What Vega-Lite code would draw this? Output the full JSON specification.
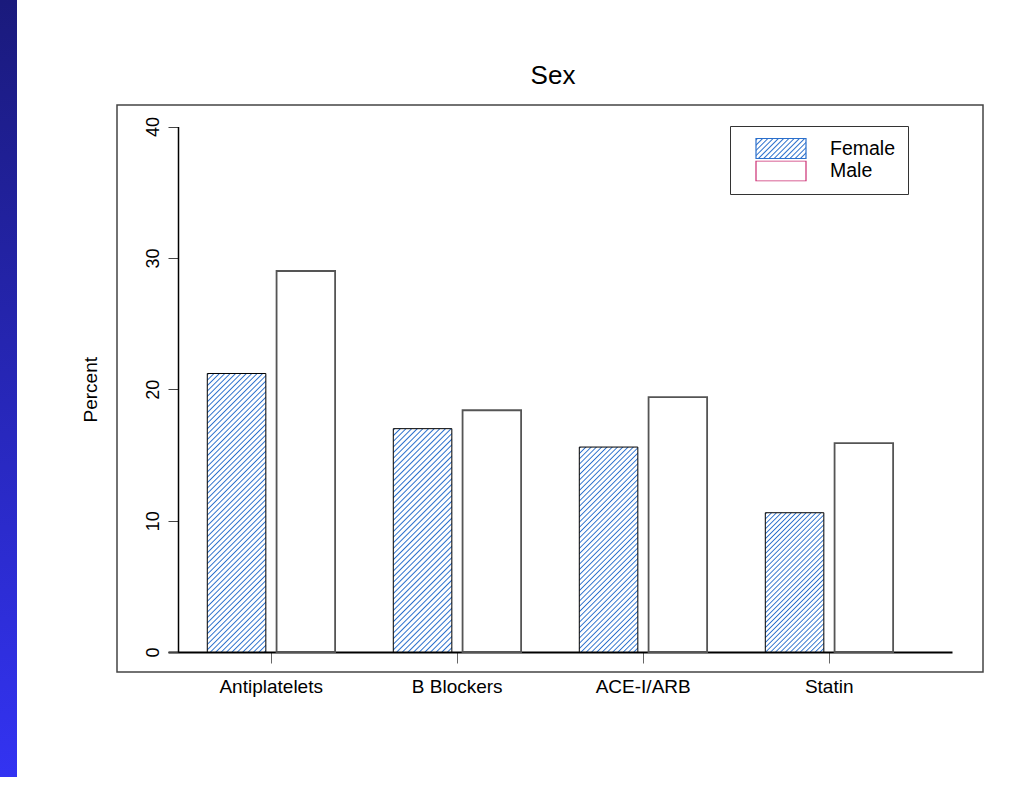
{
 "$schema": "https://vega.github.io/schema/vega-lite/v6.json",
 "padding": 0,
 "background": "white",
 "config": {"view": {"stroke": "#444444", "strokeWidth": 1.5, "fill": "white"}, "font": "Liberation Sans"},
 "spacing": 100,
 "bounds": "flush",
 "center": true,
 "hconcat": [
 {
  "width": 17,
  "height": 777,
  "view": {"stroke": null, "fill": null},
  "data": {"values": [{}]},
  "mark": {"type": "rect", "fill": {"gradient": "linear", "x1": 0, "y1": 0, "x2": 0, "y2": 1, "stops": [{"offset": 0, "color": "#1a1a7c"}, {"offset": 1, "color": "#3333f2"}]}},
  "encoding": {}
 },
 {
 "width": 866,
 "height": 567,
 "title": {"text": "Sex", "font": "Liberation Sans", "fontSize": 26, "fontWeight": "normal", "color": "#000000", "anchor": "middle", "offset": 16, "dx": 3},
 "data": {"values": [
  {"drug": "Antiplatelets", "sex": "Female", "pct": 21.2},
  {"drug": "Antiplatelets", "sex": "Male", "pct": 29.0},
  {"drug": "B Blockers", "sex": "Female", "pct": 17.0},
  {"drug": "B Blockers", "sex": "Male", "pct": 18.4},
  {"drug": "ACE-I/ARB", "sex": "Female", "pct": 15.6},
  {"drug": "ACE-I/ARB", "sex": "Male", "pct": 19.4},
  {"drug": "Statin", "sex": "Female", "pct": 10.6},
  {"drug": "Statin", "sex": "Male", "pct": 15.9}
 ]},
 "layer": [
 {
 "mark": {"type": "bar"},
 "encoding": {
  "x": {"field": "drug", "type": "nominal", "sort": null,
   "scale": {"range": [51, 835], "paddingInner": 0, "paddingOuter": 0.1075, "align": 0.255},
   "axis": {"orient": "bottom", "offset": -20, "title": null, "labelAngle": 0, "tickSize": 11, "tickColor": "#666666", "tickWidth": 1, "domainColor": "#000000", "domainWidth": 2, "labelPadding": 14, "labelFont": "Liberation Sans", "labelFontSize": 19, "labelColor": "#000000", "grid": false}},
  "xOffset": {"field": "sex", "type": "nominal", "scale": {"paddingInner": 0.155, "paddingOuter": 0.42}},
  "y": {"field": "pct", "type": "quantitative",
   "scale": {"domain": [0, 40], "range": [547, 21.5], "nice": false, "zero": false},
   "axis": {"orient": "left", "offset": -61, "values": [0, 10, 20, 30, 40], "title": "Percent", "grid": false, "labelAngle": 270, "labelAlign": "center", "labelBaseline": "alphabetic", "labelPadding": 10, "tickSize": 10, "tickColor": "#444444", "tickWidth": 1, "domainColor": "#000000", "domainWidth": 1.5, "labelFont": "Liberation Sans", "labelFontSize": 18, "labelColor": "#000000", "titleFont": "Liberation Sans", "titleFontSize": 19, "titleFontWeight": "normal", "titleColor": "#000000", "titlePadding": 44}},
  "fill": {"condition": [
   {"test": "datum.sex === 'Female' && datum.drug === 'Antiplatelets'", "value": {"gradient": "linear", "x1": 0, "y1": 0, "x2": 0.2433, "y2": 1.1589, "stops": [
{"offset":0,"color":"#fff"},{"offset":0.004,"color":"#2a6fcc"},{"offset":0.008,"color":"#fff"},
{"offset":0.016,"color":"#fff"},{"offset":0.02,"color":"#2a6fcc"},{"offset":0.024,"color":"#fff"},
{"offset":0.032,"color":"#fff"},{"offset":0.036,"color":"#2a6fcc"},{"offset":0.04,"color":"#fff"},
{"offset":0.048,"color":"#fff"},{"offset":0.052,"color":"#2a6fcc"},{"offset":0.056,"color":"#fff"},
{"offset":0.064,"color":"#fff"},{"offset":0.068,"color":"#2a6fcc"},{"offset":0.072,"color":"#fff"},
{"offset":0.08,"color":"#fff"},{"offset":0.084,"color":"#2a6fcc"},{"offset":0.088,"color":"#fff"},
{"offset":0.096,"color":"#fff"},{"offset":0.1,"color":"#2a6fcc"},{"offset":0.104,"color":"#fff"},
{"offset":0.112,"color":"#fff"},{"offset":0.116,"color":"#2a6fcc"},{"offset":0.12,"color":"#fff"},
{"offset":0.128,"color":"#fff"},{"offset":0.132,"color":"#2a6fcc"},{"offset":0.136,"color":"#fff"},
{"offset":0.144,"color":"#fff"},{"offset":0.148,"color":"#2a6fcc"},{"offset":0.152,"color":"#fff"},
{"offset":0.16,"color":"#fff"},{"offset":0.164,"color":"#2a6fcc"},{"offset":0.168,"color":"#fff"},
{"offset":0.176,"color":"#fff"},{"offset":0.18,"color":"#2a6fcc"},{"offset":0.184,"color":"#fff"},
{"offset":0.192,"color":"#fff"},{"offset":0.196,"color":"#2a6fcc"},{"offset":0.2,"color":"#fff"},
{"offset":0.208,"color":"#fff"},{"offset":0.212,"color":"#2a6fcc"},{"offset":0.216,"color":"#fff"},
{"offset":0.224,"color":"#fff"},{"offset":0.228,"color":"#2a6fcc"},{"offset":0.232,"color":"#fff"},
{"offset":0.24,"color":"#fff"},{"offset":0.244,"color":"#2a6fcc"},{"offset":0.248,"color":"#fff"},
{"offset":0.256,"color":"#fff"},{"offset":0.26,"color":"#2a6fcc"},{"offset":0.264,"color":"#fff"},
{"offset":0.272,"color":"#fff"},{"offset":0.276,"color":"#2a6fcc"},{"offset":0.28,"color":"#fff"},
{"offset":0.288,"color":"#fff"},{"offset":0.292,"color":"#2a6fcc"},{"offset":0.296,"color":"#fff"},
{"offset":0.304,"color":"#fff"},{"offset":0.308,"color":"#2a6fcc"},{"offset":0.312,"color":"#fff"},
{"offset":0.32,"color":"#fff"},{"offset":0.324,"color":"#2a6fcc"},{"offset":0.328,"color":"#fff"},
{"offset":0.336,"color":"#fff"},{"offset":0.34,"color":"#2a6fcc"},{"offset":0.344,"color":"#fff"},
{"offset":0.352,"color":"#fff"},{"offset":0.356,"color":"#2a6fcc"},{"offset":0.36,"color":"#fff"},
{"offset":0.368,"color":"#fff"},{"offset":0.372,"color":"#2a6fcc"},{"offset":0.376,"color":"#fff"},
{"offset":0.384,"color":"#fff"},{"offset":0.388,"color":"#2a6fcc"},{"offset":0.392,"color":"#fff"},
{"offset":0.4,"color":"#fff"},{"offset":0.404,"color":"#2a6fcc"},{"offset":0.408,"color":"#fff"},
{"offset":0.416,"color":"#fff"},{"offset":0.42,"color":"#2a6fcc"},{"offset":0.424,"color":"#fff"},
{"offset":0.432,"color":"#fff"},{"offset":0.436,"color":"#2a6fcc"},{"offset":0.44,"color":"#fff"},
{"offset":0.448,"color":"#fff"},{"offset":0.452,"color":"#2a6fcc"},{"offset":0.456,"color":"#fff"},
{"offset":0.464,"color":"#fff"},{"offset":0.468,"color":"#2a6fcc"},{"offset":0.472,"color":"#fff"},
{"offset":0.48,"color":"#fff"},{"offset":0.484,"color":"#2a6fcc"},{"offset":0.488,"color":"#fff"},
{"offset":0.496,"color":"#fff"},{"offset":0.5,"color":"#2a6fcc"},{"offset":0.504,"color":"#fff"},
{"offset":0.512,"color":"#fff"},{"offset":0.516,"color":"#2a6fcc"},{"offset":0.52,"color":"#fff"},
{"offset":0.528,"color":"#fff"},{"offset":0.532,"color":"#2a6fcc"},{"offset":0.536,"color":"#fff"},
{"offset":0.544,"color":"#fff"},{"offset":0.548,"color":"#2a6fcc"},{"offset":0.552,"color":"#fff"},
{"offset":0.56,"color":"#fff"},{"offset":0.564,"color":"#2a6fcc"},{"offset":0.568,"color":"#fff"},
{"offset":0.576,"color":"#fff"},{"offset":0.58,"color":"#2a6fcc"},{"offset":0.584,"color":"#fff"},
{"offset":0.592,"color":"#fff"},{"offset":0.596,"color":"#2a6fcc"},{"offset":0.6,"color":"#fff"},
{"offset":0.608,"color":"#fff"},{"offset":0.612,"color":"#2a6fcc"},{"offset":0.616,"color":"#fff"},
{"offset":0.624,"color":"#fff"},{"offset":0.628,"color":"#2a6fcc"},{"offset":0.632,"color":"#fff"},
{"offset":0.64,"color":"#fff"},{"offset":0.644,"color":"#2a6fcc"},{"offset":0.648,"color":"#fff"},
{"offset":0.656,"color":"#fff"},{"offset":0.66,"color":"#2a6fcc"},{"offset":0.664,"color":"#fff"},
{"offset":0.672,"color":"#fff"},{"offset":0.676,"color":"#2a6fcc"},{"offset":0.68,"color":"#fff"},
{"offset":0.688,"color":"#fff"},{"offset":0.692,"color":"#2a6fcc"},{"offset":0.696,"color":"#fff"},
{"offset":0.704,"color":"#fff"},{"offset":0.708,"color":"#2a6fcc"},{"offset":0.712,"color":"#fff"},
{"offset":0.72,"color":"#fff"},{"offset":0.724,"color":"#2a6fcc"},{"offset":0.728,"color":"#fff"},
{"offset":0.736,"color":"#fff"},{"offset":0.74,"color":"#2a6fcc"},{"offset":0.744,"color":"#fff"},
{"offset":0.752,"color":"#fff"},{"offset":0.756,"color":"#2a6fcc"},{"offset":0.76,"color":"#fff"},
{"offset":0.768,"color":"#fff"},{"offset":0.772,"color":"#2a6fcc"},{"offset":0.776,"color":"#fff"},
{"offset":0.784,"color":"#fff"},{"offset":0.788,"color":"#2a6fcc"},{"offset":0.792,"color":"#fff"},
{"offset":0.8,"color":"#fff"},{"offset":0.804,"color":"#2a6fcc"},{"offset":0.808,"color":"#fff"},
{"offset":0.816,"color":"#fff"},{"offset":0.82,"color":"#2a6fcc"},{"offset":0.824,"color":"#fff"},
{"offset":0.832,"color":"#fff"},{"offset":0.836,"color":"#2a6fcc"},{"offset":0.84,"color":"#fff"},
{"offset":0.848,"color":"#fff"},{"offset":0.852,"color":"#2a6fcc"},{"offset":0.856,"color":"#fff"},
{"offset":0.864,"color":"#fff"},{"offset":0.868,"color":"#2a6fcc"},{"offset":0.872,"color":"#fff"},
{"offset":0.88,"color":"#fff"},{"offset":0.884,"color":"#2a6fcc"},{"offset":0.888,"color":"#fff"},
{"offset":0.896,"color":"#fff"},{"offset":0.9,"color":"#2a6fcc"},{"offset":0.904,"color":"#fff"},
{"offset":0.912,"color":"#fff"},{"offset":0.916,"color":"#2a6fcc"},{"offset":0.92,"color":"#fff"},
{"offset":0.928,"color":"#fff"},{"offset":0.932,"color":"#2a6fcc"},{"offset":0.936,"color":"#fff"},
{"offset":0.944,"color":"#fff"},{"offset":0.948,"color":"#2a6fcc"},{"offset":0.952,"color":"#fff"},
{"offset":0.96,"color":"#fff"},{"offset":0.964,"color":"#2a6fcc"},{"offset":0.968,"color":"#fff"},
{"offset":0.976,"color":"#fff"},{"offset":0.98,"color":"#2a6fcc"},{"offset":0.984,"color":"#fff"},
{"offset":0.992,"color":"#fff"},{"offset":0.996,"color":"#2a6fcc"},{"offset":1,"color":"#fff"}
   ]}},
   {"test": "datum.sex === 'Female' && datum.drug === 'B Blockers'", "value": {"gradient": "linear", "x1": 0, "y1": 0, "x2": 0.3092, "y2": 1.1809, "stops": [
{"offset":0,"color":"#fff"},{"offset":0.005,"color":"#2a6fcc"},{"offset":0.01,"color":"#fff"},
{"offset":0.02,"color":"#fff"},{"offset":0.025,"color":"#2a6fcc"},{"offset":0.03,"color":"#fff"},
{"offset":0.04,"color":"#fff"},{"offset":0.045,"color":"#2a6fcc"},{"offset":0.05,"color":"#fff"},
{"offset":0.06,"color":"#fff"},{"offset":0.065,"color":"#2a6fcc"},{"offset":0.07,"color":"#fff"},
{"offset":0.08,"color":"#fff"},{"offset":0.085,"color":"#2a6fcc"},{"offset":0.09,"color":"#fff"},
{"offset":0.1,"color":"#fff"},{"offset":0.105,"color":"#2a6fcc"},{"offset":0.11,"color":"#fff"},
{"offset":0.12,"color":"#fff"},{"offset":0.125,"color":"#2a6fcc"},{"offset":0.13,"color":"#fff"},
{"offset":0.14,"color":"#fff"},{"offset":0.145,"color":"#2a6fcc"},{"offset":0.15,"color":"#fff"},
{"offset":0.16,"color":"#fff"},{"offset":0.165,"color":"#2a6fcc"},{"offset":0.17,"color":"#fff"},
{"offset":0.18,"color":"#fff"},{"offset":0.185,"color":"#2a6fcc"},{"offset":0.19,"color":"#fff"},
{"offset":0.2,"color":"#fff"},{"offset":0.205,"color":"#2a6fcc"},{"offset":0.21,"color":"#fff"},
{"offset":0.22,"color":"#fff"},{"offset":0.225,"color":"#2a6fcc"},{"offset":0.23,"color":"#fff"},
{"offset":0.24,"color":"#fff"},{"offset":0.245,"color":"#2a6fcc"},{"offset":0.25,"color":"#fff"},
{"offset":0.26,"color":"#fff"},{"offset":0.265,"color":"#2a6fcc"},{"offset":0.27,"color":"#fff"},
{"offset":0.28,"color":"#fff"},{"offset":0.285,"color":"#2a6fcc"},{"offset":0.29,"color":"#fff"},
{"offset":0.3,"color":"#fff"},{"offset":0.305,"color":"#2a6fcc"},{"offset":0.31,"color":"#fff"},
{"offset":0.32,"color":"#fff"},{"offset":0.325,"color":"#2a6fcc"},{"offset":0.33,"color":"#fff"},
{"offset":0.34,"color":"#fff"},{"offset":0.345,"color":"#2a6fcc"},{"offset":0.35,"color":"#fff"},
{"offset":0.36,"color":"#fff"},{"offset":0.365,"color":"#2a6fcc"},{"offset":0.37,"color":"#fff"},
{"offset":0.38,"color":"#fff"},{"offset":0.385,"color":"#2a6fcc"},{"offset":0.39,"color":"#fff"},
{"offset":0.4,"color":"#fff"},{"offset":0.405,"color":"#2a6fcc"},{"offset":0.41,"color":"#fff"},
{"offset":0.42,"color":"#fff"},{"offset":0.425,"color":"#2a6fcc"},{"offset":0.43,"color":"#fff"},
{"offset":0.44,"color":"#fff"},{"offset":0.445,"color":"#2a6fcc"},{"offset":0.45,"color":"#fff"},
{"offset":0.46,"color":"#fff"},{"offset":0.465,"color":"#2a6fcc"},{"offset":0.47,"color":"#fff"},
{"offset":0.48,"color":"#fff"},{"offset":0.485,"color":"#2a6fcc"},{"offset":0.49,"color":"#fff"},
{"offset":0.5,"color":"#fff"},{"offset":0.505,"color":"#2a6fcc"},{"offset":0.51,"color":"#fff"},
{"offset":0.52,"color":"#fff"},{"offset":0.525,"color":"#2a6fcc"},{"offset":0.53,"color":"#fff"},
{"offset":0.54,"color":"#fff"},{"offset":0.545,"color":"#2a6fcc"},{"offset":0.55,"color":"#fff"},
{"offset":0.56,"color":"#fff"},{"offset":0.565,"color":"#2a6fcc"},{"offset":0.57,"color":"#fff"},
{"offset":0.58,"color":"#fff"},{"offset":0.585,"color":"#2a6fcc"},{"offset":0.59,"color":"#fff"},
{"offset":0.6,"color":"#fff"},{"offset":0.605,"color":"#2a6fcc"},{"offset":0.61,"color":"#fff"},
{"offset":0.62,"color":"#fff"},{"offset":0.625,"color":"#2a6fcc"},{"offset":0.63,"color":"#fff"},
{"offset":0.64,"color":"#fff"},{"offset":0.645,"color":"#2a6fcc"},{"offset":0.65,"color":"#fff"},
{"offset":0.66,"color":"#fff"},{"offset":0.665,"color":"#2a6fcc"},{"offset":0.67,"color":"#fff"},
{"offset":0.68,"color":"#fff"},{"offset":0.685,"color":"#2a6fcc"},{"offset":0.69,"color":"#fff"},
{"offset":0.7,"color":"#fff"},{"offset":0.705,"color":"#2a6fcc"},{"offset":0.71,"color":"#fff"},
{"offset":0.72,"color":"#fff"},{"offset":0.725,"color":"#2a6fcc"},{"offset":0.73,"color":"#fff"},
{"offset":0.74,"color":"#fff"},{"offset":0.745,"color":"#2a6fcc"},{"offset":0.75,"color":"#fff"},
{"offset":0.76,"color":"#fff"},{"offset":0.765,"color":"#2a6fcc"},{"offset":0.77,"color":"#fff"},
{"offset":0.78,"color":"#fff"},{"offset":0.785,"color":"#2a6fcc"},{"offset":0.79,"color":"#fff"},
{"offset":0.8,"color":"#fff"},{"offset":0.805,"color":"#2a6fcc"},{"offset":0.81,"color":"#fff"},
{"offset":0.82,"color":"#fff"},{"offset":0.825,"color":"#2a6fcc"},{"offset":0.83,"color":"#fff"},
{"offset":0.84,"color":"#fff"},{"offset":0.845,"color":"#2a6fcc"},{"offset":0.85,"color":"#fff"},
{"offset":0.86,"color":"#fff"},{"offset":0.865,"color":"#2a6fcc"},{"offset":0.87,"color":"#fff"},
{"offset":0.88,"color":"#fff"},{"offset":0.885,"color":"#2a6fcc"},{"offset":0.89,"color":"#fff"},
{"offset":0.9,"color":"#fff"},{"offset":0.905,"color":"#2a6fcc"},{"offset":0.91,"color":"#fff"},
{"offset":0.92,"color":"#fff"},{"offset":0.925,"color":"#2a6fcc"},{"offset":0.93,"color":"#fff"},
{"offset":0.94,"color":"#fff"},{"offset":0.945,"color":"#2a6fcc"},{"offset":0.95,"color":"#fff"},
{"offset":0.96,"color":"#fff"},{"offset":0.965,"color":"#2a6fcc"},{"offset":0.97,"color":"#fff"},
{"offset":0.98,"color":"#fff"},{"offset":0.985,"color":"#2a6fcc"},{"offset":0.99,"color":"#fff"}
   ]}},
   {"test": "datum.sex === 'Female' && datum.drug === 'ACE-I/ARB'", "value": {"gradient": "linear", "x1": 0, "y1": 0, "x2": 0.3392, "y2": 1.1886, "stops": [
{"offset":0,"color":"#fff"},{"offset":0.005,"color":"#2a6fcc"},{"offset":0.01,"color":"#fff"},
{"offset":0.02,"color":"#fff"},{"offset":0.025,"color":"#2a6fcc"},{"offset":0.03,"color":"#fff"},
{"offset":0.04,"color":"#fff"},{"offset":0.045,"color":"#2a6fcc"},{"offset":0.05,"color":"#fff"},
{"offset":0.06,"color":"#fff"},{"offset":0.065,"color":"#2a6fcc"},{"offset":0.07,"color":"#fff"},
{"offset":0.08,"color":"#fff"},{"offset":0.085,"color":"#2a6fcc"},{"offset":0.09,"color":"#fff"},
{"offset":0.1,"color":"#fff"},{"offset":0.105,"color":"#2a6fcc"},{"offset":0.11,"color":"#fff"},
{"offset":0.12,"color":"#fff"},{"offset":0.125,"color":"#2a6fcc"},{"offset":0.13,"color":"#fff"},
{"offset":0.14,"color":"#fff"},{"offset":0.145,"color":"#2a6fcc"},{"offset":0.15,"color":"#fff"},
{"offset":0.16,"color":"#fff"},{"offset":0.165,"color":"#2a6fcc"},{"offset":0.17,"color":"#fff"},
{"offset":0.18,"color":"#fff"},{"offset":0.185,"color":"#2a6fcc"},{"offset":0.19,"color":"#fff"},
{"offset":0.2,"color":"#fff"},{"offset":0.205,"color":"#2a6fcc"},{"offset":0.21,"color":"#fff"},
{"offset":0.22,"color":"#fff"},{"offset":0.225,"color":"#2a6fcc"},{"offset":0.23,"color":"#fff"},
{"offset":0.24,"color":"#fff"},{"offset":0.245,"color":"#2a6fcc"},{"offset":0.25,"color":"#fff"},
{"offset":0.26,"color":"#fff"},{"offset":0.265,"color":"#2a6fcc"},{"offset":0.27,"color":"#fff"},
{"offset":0.28,"color":"#fff"},{"offset":0.285,"color":"#2a6fcc"},{"offset":0.29,"color":"#fff"},
{"offset":0.3,"color":"#fff"},{"offset":0.305,"color":"#2a6fcc"},{"offset":0.31,"color":"#fff"},
{"offset":0.32,"color":"#fff"},{"offset":0.325,"color":"#2a6fcc"},{"offset":0.33,"color":"#fff"},
{"offset":0.34,"color":"#fff"},{"offset":0.345,"color":"#2a6fcc"},{"offset":0.35,"color":"#fff"},
{"offset":0.36,"color":"#fff"},{"offset":0.365,"color":"#2a6fcc"},{"offset":0.37,"color":"#fff"},
{"offset":0.38,"color":"#fff"},{"offset":0.385,"color":"#2a6fcc"},{"offset":0.39,"color":"#fff"},
{"offset":0.4,"color":"#fff"},{"offset":0.405,"color":"#2a6fcc"},{"offset":0.41,"color":"#fff"},
{"offset":0.42,"color":"#fff"},{"offset":0.425,"color":"#2a6fcc"},{"offset":0.43,"color":"#fff"},
{"offset":0.44,"color":"#fff"},{"offset":0.445,"color":"#2a6fcc"},{"offset":0.45,"color":"#fff"},
{"offset":0.46,"color":"#fff"},{"offset":0.465,"color":"#2a6fcc"},{"offset":0.47,"color":"#fff"},
{"offset":0.48,"color":"#fff"},{"offset":0.485,"color":"#2a6fcc"},{"offset":0.49,"color":"#fff"},
{"offset":0.5,"color":"#fff"},{"offset":0.505,"color":"#2a6fcc"},{"offset":0.51,"color":"#fff"},
{"offset":0.52,"color":"#fff"},{"offset":0.525,"color":"#2a6fcc"},{"offset":0.53,"color":"#fff"},
{"offset":0.54,"color":"#fff"},{"offset":0.545,"color":"#2a6fcc"},{"offset":0.55,"color":"#fff"},
{"offset":0.56,"color":"#fff"},{"offset":0.565,"color":"#2a6fcc"},{"offset":0.57,"color":"#fff"},
{"offset":0.58,"color":"#fff"},{"offset":0.585,"color":"#2a6fcc"},{"offset":0.59,"color":"#fff"},
{"offset":0.6,"color":"#fff"},{"offset":0.605,"color":"#2a6fcc"},{"offset":0.61,"color":"#fff"},
{"offset":0.62,"color":"#fff"},{"offset":0.625,"color":"#2a6fcc"},{"offset":0.63,"color":"#fff"},
{"offset":0.64,"color":"#fff"},{"offset":0.645,"color":"#2a6fcc"},{"offset":0.65,"color":"#fff"},
{"offset":0.66,"color":"#fff"},{"offset":0.665,"color":"#2a6fcc"},{"offset":0.67,"color":"#fff"},
{"offset":0.68,"color":"#fff"},{"offset":0.685,"color":"#2a6fcc"},{"offset":0.69,"color":"#fff"},
{"offset":0.7,"color":"#fff"},{"offset":0.705,"color":"#2a6fcc"},{"offset":0.71,"color":"#fff"},
{"offset":0.72,"color":"#fff"},{"offset":0.725,"color":"#2a6fcc"},{"offset":0.73,"color":"#fff"},
{"offset":0.74,"color":"#fff"},{"offset":0.745,"color":"#2a6fcc"},{"offset":0.75,"color":"#fff"},
{"offset":0.76,"color":"#fff"},{"offset":0.765,"color":"#2a6fcc"},{"offset":0.77,"color":"#fff"},
{"offset":0.78,"color":"#fff"},{"offset":0.785,"color":"#2a6fcc"},{"offset":0.79,"color":"#fff"},
{"offset":0.8,"color":"#fff"},{"offset":0.805,"color":"#2a6fcc"},{"offset":0.81,"color":"#fff"},
{"offset":0.82,"color":"#fff"},{"offset":0.825,"color":"#2a6fcc"},{"offset":0.83,"color":"#fff"},
{"offset":0.84,"color":"#fff"},{"offset":0.845,"color":"#2a6fcc"},{"offset":0.85,"color":"#fff"},
{"offset":0.86,"color":"#fff"},{"offset":0.865,"color":"#2a6fcc"},{"offset":0.87,"color":"#fff"},
{"offset":0.88,"color":"#fff"},{"offset":0.885,"color":"#2a6fcc"},{"offset":0.89,"color":"#fff"},
{"offset":0.9,"color":"#fff"},{"offset":0.905,"color":"#2a6fcc"},{"offset":0.91,"color":"#fff"},
{"offset":0.92,"color":"#fff"},{"offset":0.925,"color":"#2a6fcc"},{"offset":0.93,"color":"#fff"},
{"offset":0.94,"color":"#fff"},{"offset":0.945,"color":"#2a6fcc"},{"offset":0.95,"color":"#fff"},
{"offset":0.96,"color":"#fff"},{"offset":0.965,"color":"#2a6fcc"},{"offset":0.97,"color":"#fff"},
{"offset":0.98,"color":"#fff"},{"offset":0.985,"color":"#2a6fcc"},{"offset":0.99,"color":"#fff"}
   ]}},
   {"test": "datum.sex === 'Female' && datum.drug === 'Statin'", "value": {"gradient": "linear", "x1": 0, "y1": 0, "x2": 0.5069, "y2": 1.2071, "stops": [
{"offset":0,"color":"#fff"},{"offset":0.0065,"color":"#2a6fcc"},{"offset":0.013,"color":"#fff"},
{"offset":0.025,"color":"#fff"},{"offset":0.0315,"color":"#2a6fcc"},{"offset":0.038,"color":"#fff"},
{"offset":0.05,"color":"#fff"},{"offset":0.0565,"color":"#2a6fcc"},{"offset":0.063,"color":"#fff"},
{"offset":0.075,"color":"#fff"},{"offset":0.0815,"color":"#2a6fcc"},{"offset":0.088,"color":"#fff"},
{"offset":0.1,"color":"#fff"},{"offset":0.1065,"color":"#2a6fcc"},{"offset":0.113,"color":"#fff"},
{"offset":0.125,"color":"#fff"},{"offset":0.1315,"color":"#2a6fcc"},{"offset":0.138,"color":"#fff"},
{"offset":0.15,"color":"#fff"},{"offset":0.1565,"color":"#2a6fcc"},{"offset":0.163,"color":"#fff"},
{"offset":0.175,"color":"#fff"},{"offset":0.1815,"color":"#2a6fcc"},{"offset":0.188,"color":"#fff"},
{"offset":0.2,"color":"#fff"},{"offset":0.2065,"color":"#2a6fcc"},{"offset":0.213,"color":"#fff"},
{"offset":0.225,"color":"#fff"},{"offset":0.2315,"color":"#2a6fcc"},{"offset":0.238,"color":"#fff"},
{"offset":0.25,"color":"#fff"},{"offset":0.2565,"color":"#2a6fcc"},{"offset":0.263,"color":"#fff"},
{"offset":0.275,"color":"#fff"},{"offset":0.2815,"color":"#2a6fcc"},{"offset":0.288,"color":"#fff"},
{"offset":0.3,"color":"#fff"},{"offset":0.3065,"color":"#2a6fcc"},{"offset":0.313,"color":"#fff"},
{"offset":0.325,"color":"#fff"},{"offset":0.3315,"color":"#2a6fcc"},{"offset":0.338,"color":"#fff"},
{"offset":0.35,"color":"#fff"},{"offset":0.3565,"color":"#2a6fcc"},{"offset":0.363,"color":"#fff"},
{"offset":0.375,"color":"#fff"},{"offset":0.3815,"color":"#2a6fcc"},{"offset":0.388,"color":"#fff"},
{"offset":0.4,"color":"#fff"},{"offset":0.4065,"color":"#2a6fcc"},{"offset":0.413,"color":"#fff"},
{"offset":0.425,"color":"#fff"},{"offset":0.4315,"color":"#2a6fcc"},{"offset":0.438,"color":"#fff"},
{"offset":0.45,"color":"#fff"},{"offset":0.4565,"color":"#2a6fcc"},{"offset":0.463,"color":"#fff"},
{"offset":0.475,"color":"#fff"},{"offset":0.4815,"color":"#2a6fcc"},{"offset":0.488,"color":"#fff"},
{"offset":0.5,"color":"#fff"},{"offset":0.5065,"color":"#2a6fcc"},{"offset":0.513,"color":"#fff"},
{"offset":0.525,"color":"#fff"},{"offset":0.5315,"color":"#2a6fcc"},{"offset":0.538,"color":"#fff"},
{"offset":0.55,"color":"#fff"},{"offset":0.5565,"color":"#2a6fcc"},{"offset":0.563,"color":"#fff"},
{"offset":0.575,"color":"#fff"},{"offset":0.5815,"color":"#2a6fcc"},{"offset":0.588,"color":"#fff"},
{"offset":0.6,"color":"#fff"},{"offset":0.6065,"color":"#2a6fcc"},{"offset":0.613,"color":"#fff"},
{"offset":0.625,"color":"#fff"},{"offset":0.6315,"color":"#2a6fcc"},{"offset":0.638,"color":"#fff"},
{"offset":0.65,"color":"#fff"},{"offset":0.6565,"color":"#2a6fcc"},{"offset":0.663,"color":"#fff"},
{"offset":0.675,"color":"#fff"},{"offset":0.6815,"color":"#2a6fcc"},{"offset":0.688,"color":"#fff"},
{"offset":0.7,"color":"#fff"},{"offset":0.7065,"color":"#2a6fcc"},{"offset":0.713,"color":"#fff"},
{"offset":0.725,"color":"#fff"},{"offset":0.7315,"color":"#2a6fcc"},{"offset":0.738,"color":"#fff"},
{"offset":0.75,"color":"#fff"},{"offset":0.7565,"color":"#2a6fcc"},{"offset":0.763,"color":"#fff"},
{"offset":0.775,"color":"#fff"},{"offset":0.7815,"color":"#2a6fcc"},{"offset":0.788,"color":"#fff"},
{"offset":0.8,"color":"#fff"},{"offset":0.8065,"color":"#2a6fcc"},{"offset":0.813,"color":"#fff"},
{"offset":0.825,"color":"#fff"},{"offset":0.8315,"color":"#2a6fcc"},{"offset":0.838,"color":"#fff"},
{"offset":0.85,"color":"#fff"},{"offset":0.8565,"color":"#2a6fcc"},{"offset":0.863,"color":"#fff"},
{"offset":0.875,"color":"#fff"},{"offset":0.8815,"color":"#2a6fcc"},{"offset":0.888,"color":"#fff"},
{"offset":0.9,"color":"#fff"},{"offset":0.9065,"color":"#2a6fcc"},{"offset":0.913,"color":"#fff"},
{"offset":0.925,"color":"#fff"},{"offset":0.9315,"color":"#2a6fcc"},{"offset":0.938,"color":"#fff"},
{"offset":0.95,"color":"#fff"},{"offset":0.9565,"color":"#2a6fcc"},{"offset":0.963,"color":"#fff"},
{"offset":0.975,"color":"#fff"},{"offset":0.9815,"color":"#2a6fcc"},{"offset":0.988,"color":"#fff"}
   ]}}
  ], "value": "white"},
  "stroke": {"condition": {"test": "datum.sex === 'Male'", "value": "#555555"}, "value": "#000000"},
  "strokeWidth": {"condition": {"test": "datum.sex === 'Male'", "value": 1.8}, "value": 1}
 }
 },
 {
 "transform": [{"filter": "false"}],
 "mark": {"type": "bar"},
 "encoding": {
  "fill": {"field": "sex", "type": "nominal",
   "scale": {"domain": ["Female", "Male"], "range": [{"expr": "{gradient: 'linear', x1: 0, y1: 0, x2: 1.2069, y2: 0.4828, stops: [{offset: 0, color: '#fff'}, {offset: 0.02, color: '#2a6fcc'}, {offset: 0.04, color: '#fff'}, {offset: 0.075, color: '#fff'}, {offset: 0.095, color: '#2a6fcc'}, {offset: 0.115, color: '#fff'}, {offset: 0.15, color: '#fff'}, {offset: 0.17, color: '#2a6fcc'}, {offset: 0.19, color: '#fff'}, {offset: 0.225, color: '#fff'}, {offset: 0.245, color: '#2a6fcc'}, {offset: 0.265, color: '#fff'}, {offset: 0.3, color: '#fff'}, {offset: 0.32, color: '#2a6fcc'}, {offset: 0.34, color: '#fff'}, {offset: 0.375, color: '#fff'}, {offset: 0.395, color: '#2a6fcc'}, {offset: 0.415, color: '#fff'}, {offset: 0.45, color: '#fff'}, {offset: 0.47, color: '#2a6fcc'}, {offset: 0.49, color: '#fff'}, {offset: 0.525, color: '#fff'}, {offset: 0.545, color: '#2a6fcc'}, {offset: 0.565, color: '#fff'}, {offset: 0.6, color: '#fff'}, {offset: 0.62, color: '#2a6fcc'}, {offset: 0.64, color: '#fff'}, {offset: 0.675, color: '#fff'}, {offset: 0.695, color: '#2a6fcc'}, {offset: 0.715, color: '#fff'}, {offset: 0.75, color: '#fff'}, {offset: 0.77, color: '#2a6fcc'}, {offset: 0.79, color: '#fff'}, {offset: 0.825, color: '#fff'}, {offset: 0.845, color: '#2a6fcc'}, {offset: 0.865, color: '#fff'}, {offset: 0.9, color: '#fff'}, {offset: 0.92, color: '#2a6fcc'}, {offset: 0.94, color: '#fff'}, {offset: 0.975, color: '#fff'}, {offset: 0.995, color: '#2a6fcc'}, {offset: 1, color: '#fff'}]}"}, "white"]},
   "legend": {"orient": "none", "legendX": 730, "legendY": 126, "title": null, "direction": "vertical", "padding": 12, "strokeColor": "#333333", "fillColor": "white",
    "symbolType": "M-1,-0.4H1V0.4H-1Z", "symbolSize": 2500, "symbolStrokeWidth": 1.2, "symbolOffset": 13, "labelOffset": 23,
    "labelFont": "Liberation Sans", "labelFontSize": 19.5, "labelColor": "#000000", "clipHeight": 21, "rowPadding": 1.5}},
  "stroke": {"field": "sex", "type": "nominal",
   "scale": {"domain": ["Female", "Male"], "range": ["#2a6fcc", "#cc2d72"]},
   "legend": {"orient": "none", "legendX": 730, "legendY": 126, "title": null, "direction": "vertical", "padding": 12, "strokeColor": "#333333", "fillColor": "white",
    "symbolType": "M-1,-0.4H1V0.4H-1Z", "symbolSize": 2500, "symbolStrokeWidth": 1.2, "symbolOffset": 13, "labelOffset": 23,
    "labelFont": "Liberation Sans", "labelFontSize": 19.5, "labelColor": "#000000", "clipHeight": 21, "rowPadding": 1.5}}
 }
 }
 ]
 }
 ]
}
